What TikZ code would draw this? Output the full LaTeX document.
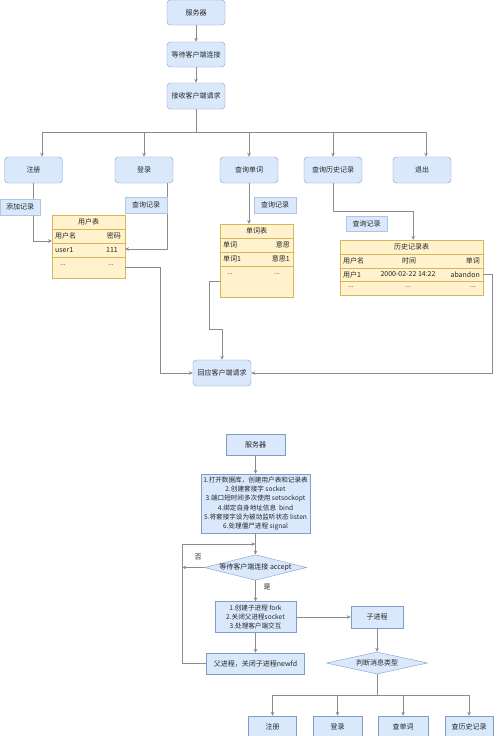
\documentclass[tikz,border=0pt]{standalone}
\usepackage{fontspec}
\newfontfamily\cjk{Noto Sans CJK SC}
\usetikzlibrary{shapes.geometric,arrows.meta,calc}
\definecolor{boxc}{HTML}{DAE8FC}
\definecolor{bordc}{HTML}{7F9CCB}
\definecolor{lblb}{HTML}{B0C4E4}
\definecolor{tabf}{HTML}{FFF2CC}
\definecolor{tabd}{HTML}{D6B656}
\definecolor{linec}{HTML}{8C8C8C}
\tikzset{
  base/.style={font=\cjk\fontsize{7}{9.5}\selectfont, inner sep=1pt, align=center, text=black!85},
  rbox/.style={base, draw=bordc, fill=boxc, rounded corners=3.5pt, minimum width=58pt, minimum height=26pt},
  sbox/.style={base, draw=bordc, fill=boxc},
  lbl/.style={base, fill=boxc, draw=lblb, minimum width=42pt, minimum height=16pt},
  tabbox/.style={draw=tabd, fill=tabf, inner sep=0pt, anchor=north west},
  cellc/.style={base, inner sep=0pt},
  celll/.style={base, inner sep=0pt, anchor=west},
  cellr/.style={base, inner sep=0pt, anchor=east},
  dia/.style={base, diamond, draw=bordc, fill=boxc, inner sep=0pt},
  plain/.style={draw=linec, line width=0.7pt},
  conn/.style={draw=linec, line width=0.7pt, -{Stealth[length=4pt,width=3.6pt]}},
  txt/.style={base, inner sep=0pt},
}
\begin{document}
\begin{tikzpicture}[x=1pt,y=-1pt]
\useasboundingbox (0,0) rectangle (496,736);
\fill[white] (0,0) rectangle (496,736);

% ---------- top diagram ----------
\node[rbox, minimum height=25pt] (s1) at (196,12.5) {服务器};
\node[rbox, minimum height=25pt] (s2) at (196,54.5) {等待客户端连接};
\node[rbox] (s3) at (196,96) {接收客户端请求};

\node[rbox] (reg)   at (33.5,170) {注册};
\node[rbox] (login) at (144,170) {登录};
\node[rbox] (qword) at (249,170) {查询单词};
\node[rbox] (qhist) at (333,170) {查询历史记录};
\node[rbox] (quit)  at (422,170) {退出};

\node[rbox] (resp) at (222,373) {回应客户端请求};

\draw[conn] (s1) -- (s2);
\draw[conn] (s2) -- (s3);
\coordinate (brL) at (42,132);
\coordinate (brR) at (426,132);
\draw[plain] (s3.south) -- (s3.south |- brL);
\draw[plain] (brL) -- (brR);
\draw[conn] (brL) -- (brL |- reg.north);
\draw[conn] (login.north |- brL) -- (login.north);
\draw[conn] (qword.north |- brL) -- (qword.north);
\draw[conn] (qhist.north |- brL) -- (qhist.north);
\draw[conn] (brR) -- (brR |- quit.north);

% user table
\node[tabbox, minimum width=73pt, minimum height=63pt] (utab) at (52,215) {};
\draw[tabd] (52,229) -- (125,229) (52,243) -- (125,243) (52,257) -- (125,257);
\node[cellc] (ut0) at (88.5,222) {用户表};
\node[celll] (ut1) at (55,236) {用户名};
\node[cellr] (ut2) at (121,236) {密码};
\node[celll] (ut3) at (55,250) {user1};
\node[cellr] (ut4) at (118,250) {111};
\node[cellc] (ut5) at (63,265) {...};
\node[cellc] (ut6) at (111,265) {...};

% word table
\node[tabbox, minimum width=73pt, minimum height=73pt] (wtab) at (220,224) {};
\draw[tabd] (220,238) -- (293,238) (220,252) -- (293,252) (220,266) -- (293,266);
\node[cellc] (wt0) at (256.5,231) {单词表};
\node[celll] (wt1) at (223,245) {单词};
\node[cellr] (wt2) at (290,245) {意思};
\node[celll] (wt3) at (223,259) {单词1};
\node[cellr] (wt4) at (290,259) {意思1};
\node[cellc] (wt5) at (230,274) {...};
\node[cellc] (wt6) at (277,274) {...};

% history table
\node[tabbox, minimum width=143pt, minimum height=55pt] (htab) at (340,240) {};
\draw[tabd] (340,254) -- (483,254) (340,268) -- (483,268) (340,281) -- (483,281);
\node[cellc] (ht0) at (411.5,247) {历史记录表};
\node[celll] (ht1) at (343,261) {用户名};
\node[cellc] (ht2) at (409,261) {时间};
\node[cellr] (ht3) at (480,261) {单词};
\node[celll] (ht4) at (343,274.5) {用户1};
\node[cellc] (ht5) at (408,274.5) {2000-02-22 14:22};
\node[cellr] (ht6) at (480,274.5) {abandon};
\node[cellc] (ht7) at (351,287) {...};
\node[cellc] (ht8) at (408,287) {...};
\node[cellc] (ht9) at (473,287) {...};

% connectors to tables
\coordinate (u1) at (52,241);
\coordinate (u2) at (125,249);
\coordinate (u3) at (125,267);
\draw[conn] (reg.south) |- (u1);
\draw[conn] ([xshift=23pt]login.south) |- (u2);
\draw[conn] (u3) -- (160,267) |- (resp.west);
\draw[conn] (qword.south) -- (qword.south |- wtab.north);
\coordinate (w1) at (220,281);
\draw[conn] (w1) -- (209,281) -- (209,329) -| (resp.north);
\draw[conn] (qhist.south) -- ++(0,28) -| ([xshift=1.5pt]htab.north);
\coordinate (h1) at (483,274);
\draw[conn] (h1) -- (492,274) |- (resp.east);

% labels
\node[lbl, minimum width=40pt] (l1) at (20,207) {添加记录};
\node[lbl] (l2) at (146,205) {查询记录};
\node[lbl] (l3) at (275,205) {查询记录};
\node[lbl, minimum width=41pt, minimum height=15pt] (l4) at (366.5,223.5) {查询记录};

% ---------- bottom diagram ----------
\node[sbox, minimum width=59pt, minimum height=21pt] (b1) at (255.5,444.5) {服务器};
\node[sbox, minimum width=109pt, minimum height=59pt, font=\cjk\fontsize{6.6}{9.3}\selectfont] (b2) at (255.5,503.5)
  {1.打开数据库，创建用户表和记录表\\2.创建套接字 socket\\3.端口短时间多次使用 setsockopt\\4.绑定自身地址信息\ \ bind\\5.将套接字设为被动监听状态 listen\\6.处理僵尸进程 signal};
\node[dia, minimum width=101pt, minimum height=25pt, aspect=4] (d1) at (255.5,567.5) {等待客户端连接 accept};
\node[sbox, minimum width=81pt, minimum height=31pt, font=\cjk\fontsize{6.6}{8.6}\selectfont] (b3) at (255.5,617)
  {1.创建子进程 fork\\2.关闭父进程socket\\3.处理客户端交互};
\node[sbox, minimum width=52pt, minimum height=22pt] (child) at (377,617) {子进程};
\node[sbox, minimum width=98pt, minimum height=21pt] (parent) at (255.5,663.5) {父进程，关闭子进程newfd};
\node[dia, minimum width=101pt, minimum height=22pt, aspect=4.6] (d2) at (377,663) {判断消息类型};

\node[sbox, minimum width=48pt, minimum height=22pt] (r1) at (272.5,727) {注册};
\node[sbox, minimum width=49pt, minimum height=22pt] (r2) at (337.5,727) {登录};
\node[sbox, minimum width=50pt, minimum height=22pt] (r3) at (403,727) {查单词};
\node[sbox, minimum width=48pt, minimum height=22pt] (r4) at (469,727) {查历史记录};

\draw[conn] (b1) -- (b2);
\draw[conn] (b2) -- (d1);
\coordinate (j) at (255.5,544);
\draw[conn] (parent.west) -- ++(-23.5,0) |- (j);
\draw[conn] (d1.west) -- ++(-22,0);
\node[txt] (no) at (198,557) {否};
\draw[conn] (d1.south) -- (b3.north);
\node[txt] (yes) at (267,587) {是};
\draw[conn] (b3.east) -- (child.west);
\draw[conn] (b3.south) -- (parent.north);
\draw[conn] (child.south) -- (d2.north);
\draw[plain] (d2.south) -- ++(0,21) coordinate (k);
\draw[plain] (r1.north |- k) -- (r4.north |- k);
\draw[conn] (r1.north |- k) -- (r1.north);
\draw[conn] (r2.north |- k) -- (r2.north);
\draw[conn] (r3.north |- k) -- (r3.north);
\draw[conn] (r4.north |- k) -- (r4.north);
\end{tikzpicture}
\end{document}
